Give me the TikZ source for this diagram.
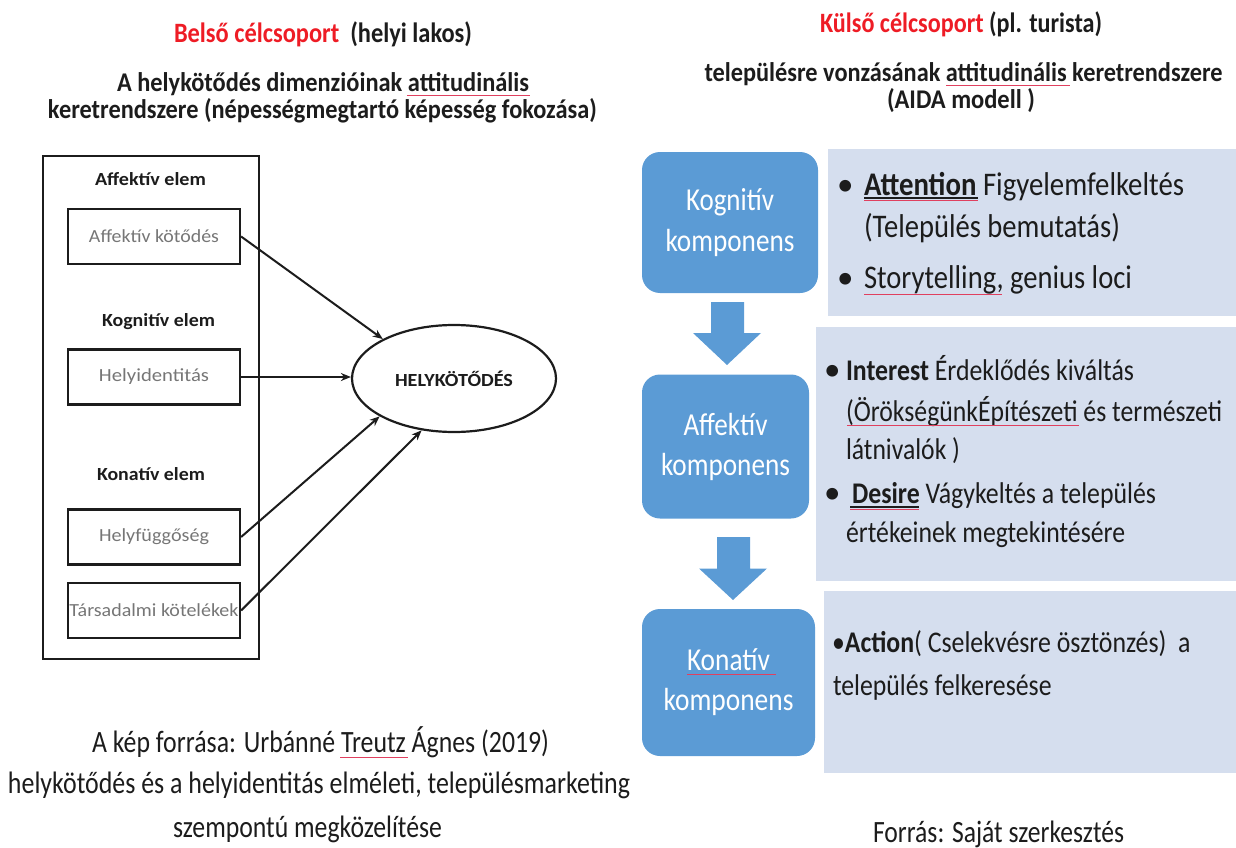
\documentclass[tikz,border=0pt]{standalone}
\usepackage{graphicx}
\usepackage{fontspec}
\setmainfont{Carlito}
\usetikzlibrary{arrows.meta,shapes.geometric}
\definecolor{ink}{HTML}{1C1C1C}
\definecolor{gtxt}{HTML}{767676}
\definecolor{blueb}{HTML}{5B9BD5}
\definecolor{panel}{HTML}{D5DEEE}
\definecolor{redt}{HTML}{EE1C25}
\definecolor{redu}{HTML}{E0405F}
\newcommand{\fw}[2]{\resizebox{#1pt}{\height}{#2}}
\newcommand{\fs}[1]{\fontsize{#1}{#1}\selectfont}
\tikzset{
  x=1pt,y=-1pt,
  txt/.style={inner sep=0,outer sep=0,anchor=base west,text=ink},
  headtxt/.style={txt,font=\fs{28}\bfseries},
  subtxt/.style={txt,font=\fs{27}\bfseries},
  captxt/.style={txt,font=\fs{31}},
  bodytxt/.style={txt,font=\fs{33}},
  bodysmall/.style={txt,font=\fs{30}},
  elemtxt/.style={txt,font=\fs{18.5}\bfseries},
  framebox/.style={draw=ink,line width=2.2pt},
  labelbox/.style={framebox,minimum width=172pt,minimum height=55pt,inner sep=0,text=gtxt,font=\fs{18.5}},
  compbox/.style={rounded corners=18pt,fill=blueb,text=white,inner sep=0,font=\fs{32},align=center},
  panelbox/.style={fill=panel},
  blockarrow/.style={fill=blueb},
  conn/.style={draw=ink,line width=2pt,-{Stealth[length=10pt,width=8pt]}},
  squig/.style={draw=redu,line width=1pt},
  underl/.style={draw=ink,line width=1.2pt}
}
\begin{document}
\begin{tikzpicture}
\useasboundingbox (0,0) rectangle (1236,848);
% panels
\fill[panelbox] (828,149) rectangle (1236,316);
\fill[panelbox] (816,327) rectangle (1236,581);
\fill[panelbox] (823.5,591) rectangle (1236,773);
% headings left
\node[headtxt] (h1) at (174,43) {\fw{298}{\textcolor{redt}{Belső célcsoport}\ \ (helyi lakos)}};
\node[subtxt] (h2) at (117,92) {\fw{412}{A helykötődés dimenzióinak attitudinális}};
\node[subtxt] (h3) at (48,118) {\fw{549}{keretrendszere (népességmegtartó képesség fokozása)}};
% frame
\node[framebox,minimum width=216pt,minimum height=503pt,inner sep=0] (outer) at (151,407.5) {};
\node[elemtxt] (e1) at (95,185) {\fw{111}{Affektív elem}};
\node[labelbox] (b1) at (154,236.5) {\fw{130}{Affektív kötődés}};
\node[elemtxt] (e2) at (102,326) {\fw{113}{Kognitív elem}};
\node[labelbox] (b2) at (154,377) {\fw{110}{Helyidentitás}};
\node[elemtxt] (e3) at (97,480) {\fw{108}{Konatív elem}};
\node[labelbox] (b3) at (154,537) {\fw{110}{Helyfüggőség}};
\node[labelbox] (b4) at (154,610.5) {\fw{169}{Társadalmi kötelékek}};
\node[ellipse,framebox,minimum width=204pt,minimum height=107pt,inner sep=0,font=\fs{18.5}\bfseries,text=ink] (hely) at (454,378.5) {\fw{118}{HELYKÖTŐDÉS}};
\draw[conn] (b1.east) -- (hely.151);
\draw[conn] (b2.east) -- (b2.east -| hely.west);
\draw[conn] (b3.east) -- (hely.207);
\draw[conn] (b4.east) -- (hely.238);
% captions left
\node[captxt] (c1) at (92,752) {\fw{457}{A kép forrása: Urbánné Treutz Ágnes (2019)}};
\node[captxt] (c2) at (8,793) {\fw{622}{helykötődés és a helyidentitás elméleti, településmarketing}};
\node[captxt] (c3) at (173,837) {\fw{269}{szempontú megközelítése}};
% headings right
\node[headtxt] (h4) at (820,33) {\fw{282}{\textcolor{redt}{Külső célcsoport} (pl. turista)}};
\node[subtxt] (h5) at (704.5,82) {\fw{518}{településre vonzásának attitudinális keretrendszere}};
\node[subtxt] (h6) at (887,109) {\fw{148}{(AIDA modell )}};
% components
\node[compbox,minimum width=176pt,minimum height=141pt] (k1) at (730,222.5) {\fw{88}{Kognitív}\\[9pt]\fw{129}{komponens}};
\node[compbox,minimum width=167pt,minimum height=144pt] (k2) at (725.5,446.5) {\fw{84}{Affektív}\\[8pt]\fw{129}{komponens}};
\node[compbox,minimum width=173pt,minimum height=147pt] (k3) at (728.5,682.5) {\fw{83}{Konatív}\\[8pt]\fw{130}{komponens}};
% block arrows
\fill[blockarrow] (711,302) -- (744,302) -- (744,333) -- (761,333) -- (727,365) -- (693,333) -- (711,333) -- cycle;
\fill[blockarrow] (717,537) -- (750,537) -- (750,568.5) -- (767,568.5) -- (733,600) -- (699,568.5) -- (717,568.5) -- cycle;
% panel text
\node[bodytxt] (bu1) at (837,195) {•};
\node[bodytxt] (t1) at (864,195) {\fw{320}{\textbf{Attention} Figyelemfelkeltés}};
\node[bodytxt] (t2) at (864,237) {\fw{256}{(Település bemutatás)}};
\node[bodytxt] (bu2) at (837,288) {•};
\node[bodytxt] (t3) at (864,288) {\fw{268}{Storytelling, genius loci}};
\node[bodytxt] (bu3) at (824,380) {•};
\node[bodysmall] (t4) at (846,380) {\fw{288}{\textbf{Interest} Érdeklődés kiváltás}};
\node[bodysmall] (t5) at (846,421) {\fw{376}{(ÖrökségünkÉpítészeti és természeti}};
\node[bodysmall] (t6) at (846,459) {\fw{114}{látnivalók )}};
\node[bodytxt] (bu4) at (824,503.5) {•};
\node[bodysmall] (t7) at (852,503.5) {\fw{304}{\textbf{Desire} Vágykeltés a település}};
\node[bodysmall] (t8) at (846,542) {\fw{279}{értékeinek megtekintésére}};
\node[bodysmall] (t9) at (832,652) {\fw{358.5}{•\textbf{Action}( Cselekvésre ösztönzés)\ \ a}};
\node[bodysmall] (t10) at (833,695) {\fw{218.5}{település felkeresése}};
\node[captxt] (src) at (873,842.5) {\fw{251}{Forrás: Saját szerkesztés}};
% spell-check underlines
\draw[squig] (407,96) -- (530,96);
\draw[squig] (340,757) -- (408,757);
\draw[squig] (946,86) -- (1070,86);
\draw[underl] (864,198) -- (978,198);
\draw[squig] (864,200) -- (978,200);
\draw[squig] (864,294) -- (1002,294);
\draw[squig] (847,425) -- (1079,425);
\draw[underl] (850,507) -- (919,507);
\draw[squig] (850,509) -- (919,509);
\draw[squig] (687,674.5) -- (776,674.5);
\end{tikzpicture}
\end{document}
